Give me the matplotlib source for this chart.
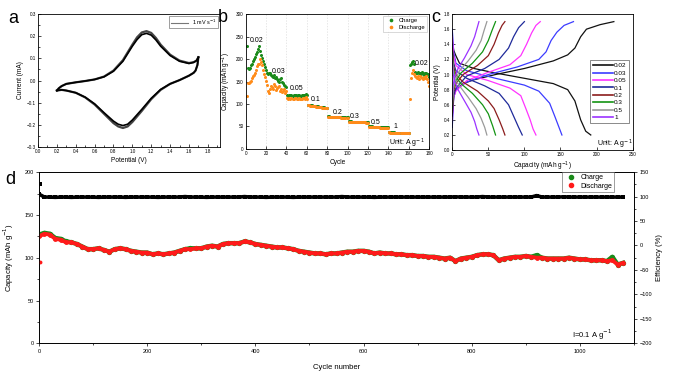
import numpy as np
import matplotlib.pyplot as plt
from matplotlib.ticker import MultipleLocator

plt.rcParams['font.family'] = ['Liberation Sans', 'DejaVu Sans']
plt.rcParams['axes.linewidth'] = 0.6

# ---- panel a: CV at 1 mV/s ----
cv_v_fwd = [0.2, 0.22, 0.25, 0.3, 0.4, 0.5, 0.6, 0.7, 0.8, 0.9, 1.0, 1.05, 1.1, 1.15,
            1.2, 1.25, 1.3, 1.4, 1.5, 1.6, 1.65, 1.68, 1.7]
cv_i_fwd = [-0.045, -0.035, -0.025, -0.015, -0.008, -0.002, 0.005, 0.017, 0.042, 0.087,
            0.155, 0.185, 0.207, 0.213, 0.205, 0.183, 0.155, 0.113, 0.087, 0.077, 0.082, 0.09, 0.105]
cv_i_fwd_2 = [-0.045, -0.035, -0.025, -0.015, -0.008, -0.002, 0.005, 0.018, 0.045, 0.092,
              0.162, 0.195, 0.217, 0.223, 0.215, 0.192, 0.162, 0.117, 0.09, 0.079, 0.083, 0.09, 0.105]
cv_v_rev = [1.7, 1.69, 1.67, 1.65, 1.6, 1.5, 1.4, 1.3, 1.2, 1.1, 1.0, 0.95, 0.9, 0.85,
            0.8, 0.7, 0.6, 0.5, 0.4, 0.3, 0.25, 0.2]
cv_i_rev = [0.105, 0.07, 0.045, 0.035, 0.022, 0.002, -0.015, -0.04, -0.08, -0.13, -0.178,
            -0.197, -0.203, -0.197, -0.183, -0.145, -0.105, -0.075, -0.055, -0.045, -0.042, -0.045]
cv_i_rev_2 = [0.105, 0.07, 0.045, 0.035, 0.022, 0.002, -0.015, -0.042, -0.084, -0.137, -0.187,
              -0.207, -0.214, -0.207, -0.192, -0.15, -0.108, -0.076, -0.055, -0.045, -0.042, -0.045]

# ---- panel b: rate capability ----
b_charge = [228, 180, 178, 181, 186, 190, 196, 200, 205, 212, 216, 222, 228, 218, 210, 202, 196, 188, 182, 175,
            168, 166, 170, 168, 165, 162, 160, 164, 157, 160, 155, 152, 150, 156, 158, 148, 146, 142, 140, 137,
            120, 118, 121, 119, 120, 118, 119, 121, 120, 118, 119, 120, 118, 117, 119, 120, 121, 118, 122, 119,
            98, 98, 97, 97, 97, 96, 96, 96, 95, 95, 95, 94, 94, 94, 93, 93, 93, 92, 92, 91,
            73, 73, 72, 72, 72, 72, 72, 71, 71, 71, 71, 71, 71, 70, 70, 70, 70, 70, 70, 70,
            62, 62, 62, 61, 61, 61, 61, 61, 61, 60, 60, 60, 60, 60, 60, 60, 60, 59, 59, 59,
            50, 50, 50, 50, 49, 49, 49, 49, 49, 49, 49, 48, 48, 48, 48, 48, 48, 48, 48, 48,
            38, 37, 37, 37, 37, 37, 36, 36, 36, 36, 36, 36, 36, 36, 36, 36, 36, 36, 36, 36,
            186, 190, 193, 196, 190, 172, 170, 168, 172, 170, 168, 166, 172, 169, 165, 168, 170, 165, 167, 160]
b_discharge = [118, 147, 146, 150, 152, 157, 162, 165, 170, 176, 184, 189, 190, 200, 194, 186, 176, 166, 160, 152,
               142, 130, 124, 134, 140, 137, 134, 144, 140, 131, 135, 138, 140, 130, 134, 127, 130, 134, 124, 128,
               113, 111, 114, 112, 113, 111, 112, 114, 113, 111, 112, 113, 111, 110, 112, 113, 114, 111, 115, 112,
               97, 97, 96, 96, 96, 95, 95, 95, 94, 94, 94, 93, 93, 93, 92, 92, 92, 91, 91, 90,
               72, 72, 71, 71, 71, 71, 71, 70, 70, 70, 70, 70, 70, 69, 69, 69, 69, 69, 69, 69,
               61, 61, 61, 60, 60, 60, 60, 60, 60, 59, 59, 59, 59, 59, 59, 59, 59, 58, 58, 58,
               49, 49, 49, 49, 48, 48, 48, 48, 48, 48, 48, 47, 47, 47, 47, 47, 47, 47, 47, 47,
               37, 36, 36, 36, 36, 36, 35, 35, 35, 35, 35, 35, 35, 35, 35, 35, 35, 35, 35, 35,
               110, 158, 170, 176, 166, 162, 160, 158, 163, 155, 162, 160, 158, 155, 160, 158, 162, 155, 150, 140]
b_cycles = np.arange(1, len(b_charge) + 1)
b_rate_labels = ['0.02', '0.03', '0.05', '0.1', '0.2', '0.3', '0.5', '1', '0.02']
b_label_x = [11, 32, 50, 69, 90, 107, 128, 147, 173]
b_label_y = [242, 172, 135, 110, 81, 72, 59, 50, 190]

# ---- panel c: charge/discharge profiles ----
c_rates = ['0.02', '0.03', '0.05', '0.1', '0.2', '0.3', '0.5', '1']
c_colors = ['#111111', '#3c3cff', '#ff33ff', '#1f2a9a', '#8b1c1c', '#139413', '#9a9a9a', '#9b33ff']
c_chg_cap = [[0, 2, 5, 15, 30, 60, 100, 140, 160, 170, 178, 186, 205, 224],
             [0, 2, 5, 20, 50, 90, 120, 130, 137, 145, 155, 168],
             [0, 2, 5, 20, 50, 80, 95, 103, 110, 116, 122],
             [0, 2, 5, 20, 45, 65, 78, 85, 92, 100],
             [0, 2, 5, 15, 35, 50, 58, 64, 69, 73],
             [0, 1.5, 4, 12, 28, 42, 50, 55, 60],
             [0, 1.5, 3, 10, 22, 33, 40, 44, 48],
             [0, 1, 3, 8, 17, 26, 31, 34, 37]]
c_chg_v = [[0.45, 0.7, 0.8, 0.88, 0.93, 1.0, 1.08, 1.18, 1.26, 1.35, 1.5, 1.6, 1.66, 1.7],
           [0.3, 0.7, 0.8, 0.9, 1.0, 1.1, 1.2, 1.3, 1.45, 1.56, 1.65, 1.7],
           [0.4, 0.7, 0.78, 0.92, 1.03, 1.13, 1.25, 1.4, 1.55, 1.65, 1.7],
           [0.45, 0.72, 0.82, 0.98, 1.08, 1.2, 1.35, 1.5, 1.62, 1.7],
           [0.5, 0.78, 0.88, 1.0, 1.12, 1.25, 1.4, 1.55, 1.65, 1.7],
           [0.55, 0.8, 0.9, 1.02, 1.15, 1.3, 1.45, 1.58, 1.7],
           [0.6, 0.8, 0.9, 1.05, 1.18, 1.32, 1.45, 1.58, 1.7],
           [0.65, 0.85, 0.95, 1.08, 1.22, 1.38, 1.5, 1.6, 1.7]]
c_dis_cap = [[0, 2, 5, 10, 30, 60, 100, 140, 160, 170, 178, 185, 192],
             [0, 2, 5, 20, 60, 100, 120, 135, 142, 148, 152],
             [0, 2, 5, 20, 50, 80, 95, 102, 108, 112, 116],
             [0, 2, 5, 20, 45, 65, 78, 85, 92, 97],
             [0, 2, 5, 15, 35, 50, 58, 65, 70, 73],
             [0, 1.5, 4, 12, 28, 42, 50, 56, 60],
             [0, 1.5, 3, 10, 22, 33, 40, 45, 48],
             [0, 1, 3, 8, 17, 26, 31, 34, 37]]
c_dis_v = [[1.45, 1.32, 1.25, 1.15, 1.08, 1.02, 0.95, 0.88, 0.8, 0.65, 0.4, 0.25, 0.2],
           [1.6, 1.3, 1.15, 1.05, 0.95, 0.86, 0.78, 0.62, 0.45, 0.3, 0.2],
           [1.5, 1.25, 1.12, 1.0, 0.92, 0.82, 0.72, 0.55, 0.4, 0.28, 0.2],
           [1.4, 1.15, 1.05, 0.95, 0.85, 0.75, 0.6, 0.45, 0.3, 0.2],
           [1.35, 1.1, 1.0, 0.9, 0.78, 0.65, 0.55, 0.4, 0.28, 0.2],
           [1.3, 1.08, 0.98, 0.88, 0.75, 0.6, 0.48, 0.32, 0.2],
           [1.25, 1.05, 0.95, 0.85, 0.7, 0.55, 0.42, 0.3, 0.2],
           [1.2, 1.02, 0.92, 0.8, 0.65, 0.5, 0.38, 0.28, 0.2]]

# ---- panel d: long cycling at 0.1 A/g (every 10th cycle) ----
d_discharge = [125, 128, 127, 122, 121, 118, 118, 116, 113, 110,
               110, 111, 109, 107, 110, 111, 110, 108, 107, 106,
               106, 104, 105, 104, 105, 106, 108, 110, 110, 111,
               111, 113, 114, 113, 116, 117, 117, 117, 119, 118,
               116, 115, 114, 113, 112, 112, 111, 110, 108, 107,
               106, 105, 105, 104, 105, 105, 106, 107, 107, 108,
               108, 107, 105, 106, 105, 105, 104, 104, 103, 103,
               102, 102, 101, 101, 100, 99, 100, 96, 99, 100,
               101, 103, 104, 104, 103, 97, 99, 100, 101, 101,
               102, 101, 100, 100, 99, 99, 99, 99, 100, 99,
               98, 98, 97, 97, 97, 96, 97, 92, 94]
d_charge = [127, 129, 128, 123, 122, 119, 118, 116, 113, 110,
            110, 111, 109, 107, 110, 111, 110, 108, 107, 106,
            106, 104, 105, 104, 105, 106, 108, 110, 111, 111,
            111, 113, 114, 113, 116, 117, 117, 117, 119, 118,
            116, 115, 114, 113, 112, 112, 111, 110, 108, 107,
            106, 105, 105, 104, 105, 105, 106, 107, 107, 108,
            108, 107, 105, 106, 105, 105, 104, 104, 103, 103,
            102, 102, 101, 101, 100, 99, 100, 96, 99, 100,
            101, 103, 104, 104, 103, 97, 99, 100, 101, 101,
            102, 101, 103, 100, 99, 99, 99, 99, 100, 99,
            98, 98, 97, 97, 97, 96, 101, 92, 94]
d_efficiency = [105, 99, 99, 98.5, 99, 99, 98.5, 99, 99, 99,
                99, 98.5, 99, 99, 99, 99, 98.5, 99, 99, 99,
                99, 99, 98.5, 99, 99, 99, 99, 100, 99, 99,
                99, 98.5, 99, 99, 99, 99, 99, 99, 100, 99,
                99, 99, 98.5, 99, 99, 99, 99, 98.5, 99, 99,
                99, 99, 99, 99, 99, 99, 100, 99, 99, 99,
                99, 99, 98.5, 99, 99, 99, 99, 99, 99, 99,
                99, 99, 99, 99, 99, 99, 99, 99.5, 99, 99,
                99, 99, 100, 99, 99, 99, 99, 99, 99, 99,
                99, 99, 102, 99, 99, 99, 99, 99.5, 99, 99,
                99, 99, 99, 99, 99, 99, 99, 99, 99]
d_cycles = np.arange(0, 10 * len(d_discharge), 10)
d_first_discharge = 95
d_first_efficiency = 126

fig = plt.figure(figsize=(6.73, 3.8), dpi=100)

def style(ax, fs=3.3, direction='in'):
    ax.tick_params(which='both', direction=direction, labelsize=fs, width=0.5, pad=1.5)
    ax.tick_params(which='major', length=2.5)
    ax.tick_params(which='minor', length=1.3)

# a
ax_a = fig.add_axes([0.0565, 0.613, 0.2705, 0.35])
ax_a.plot(cv_v_fwd, cv_i_fwd_2, color='#444444', lw=1.6)
ax_a.plot(cv_v_rev, cv_i_rev_2, color='#444444', lw=1.6)
ax_a.plot(cv_v_fwd, cv_i_fwd, color='black', lw=1.2, label='1 mV s$^{-1}$')
ax_a.plot(cv_v_rev, cv_i_rev, color='black', lw=1.2)
ax_a.set_xlim(0, 1.93)
ax_a.set_ylim(-0.3, 0.3)
ax_a.xaxis.set_major_locator(MultipleLocator(0.2))
ax_a.xaxis.set_minor_locator(MultipleLocator(0.1))
ax_a.yaxis.set_major_locator(MultipleLocator(0.1))
ax_a.yaxis.set_minor_locator(MultipleLocator(0.05))
ax_a.xaxis.set_major_formatter('{x:.1f}')
ax_a.yaxis.set_major_formatter('{x:.1f}')
style(ax_a)
ax_a.set_xlabel('Potential (V)', fontsize=4.7, labelpad=2)
ax_a.set_ylabel('Current (mA)', fontsize=4.7, labelpad=2)
leg = ax_a.legend(loc='upper right', fontsize=4, frameon=True, fancybox=False, handlelength=3,
                  borderpad=0.3, borderaxespad=0.3)
leg.get_lines()[0].set_color('#777777')
leg.get_lines()[0].set_linewidth(0.8)
leg.get_frame().set_edgecolor('#555555')
leg.get_frame().set_linewidth(0.5)
fig.text(0.013, 0.94, 'a', fontsize=13)

# b
ax_b = fig.add_axes([0.365, 0.608, 0.2725, 0.355])
for c in range(20, 180, 20):
    ax_b.axvline(c, color='#dddddd', lw=0.5, ls=(0, (2, 2)), zorder=0)
ax_b.plot(b_cycles, b_charge, 'o', color='#1a8a1a', ms=2.2, mew=0, label='Charge')
ax_b.plot(b_cycles, b_discharge, 'o', color='#ff8c1a', ms=2.2, mew=0, label='Discharge')
ax_b.set_xlim(0, 180)
ax_b.set_ylim(0, 300)
ax_b.xaxis.set_major_locator(MultipleLocator(20))
ax_b.yaxis.set_major_locator(MultipleLocator(50))
style(ax_b)
ax_b.set_xlabel('Cycle', fontsize=4.7, labelpad=2)
ax_b.set_ylabel('Capacity (mAh g$^{-1}$)', fontsize=4.7, labelpad=2)
for lab, lx, ly in zip(b_rate_labels, b_label_x, b_label_y):
    ax_b.text(lx, ly, lab, fontsize=5, ha='center', va='center')
ax_b.text(176, 13, 'Unit: A g$^{-1}$', fontsize=5, ha='right', va='center')
leg = ax_b.legend(loc='upper right', fontsize=4.2, frameon=True, fancybox=False, handletextpad=0.3,
                  borderpad=0.4, labelspacing=0.3, borderaxespad=0.3, markerscale=1.2)
leg.get_frame().set_edgecolor('#aaaaaa')
leg.get_frame().set_linewidth(0.4)
fig.text(0.324, 0.942, 'b', fontsize=13)

# c
ax_c = fig.add_axes([0.672, 0.605, 0.268, 0.358])
for i in range(len(c_rates)):
    ax_c.plot(c_chg_cap[i], c_chg_v[i], color=c_colors[i], lw=0.9, label=c_rates[i])
    ax_c.plot(c_dis_cap[i], c_dis_v[i], color=c_colors[i], lw=0.9)
ax_c.set_xlim(0, 250)
ax_c.set_ylim(0, 1.8)
ax_c.xaxis.set_major_locator(MultipleLocator(50))
ax_c.yaxis.set_major_locator(MultipleLocator(0.2))
ax_c.yaxis.set_major_formatter('{x:.1f}')
style(ax_c)
ax_c.set_xlabel('Capacity (mAh g$^{-1}$)', fontsize=4.7, labelpad=2)
ax_c.set_ylabel('Potential (V)', fontsize=4.7, labelpad=2)
leg = ax_c.legend(loc='center right', bbox_to_anchor=(1.0, 0.43), fontsize=4.6, frameon=True,
                  fancybox=False, handlelength=3.2, handletextpad=0.2, labelspacing=0.3, borderpad=0.4)
for ln in leg.get_lines():
    ln.set_linewidth(1.2)
leg.get_frame().set_edgecolor('#333333')
leg.get_frame().set_linewidth(0.5)
ax_c.text(225, 0.08, 'Unit: A g$^{-1}$', fontsize=5, ha='center', va='center')
fig.text(0.641, 0.942, 'c', fontsize=13)

# d
ax_d = fig.add_axes([0.058, 0.0966, 0.884, 0.4504])
ax_e = ax_d.twinx()
ax_e.plot(d_cycles, d_efficiency, color='black', lw=2.6, marker='s', ms=3.0, mew=0)
ax_e.plot([1], [d_first_efficiency], 's', color='black', ms=2.8, mew=0)
ax_e.set_ylim(-200, 150)
ax_e.yaxis.set_major_locator(MultipleLocator(50))
ax_e.yaxis.set_minor_locator(MultipleLocator(25))
style(ax_e, fs=4, direction='out')
ax_e.set_ylabel('Efficiency (%)', fontsize=5.5, labelpad=3)
ax_d.set_zorder(ax_e.get_zorder() + 1)
ax_d.patch.set_visible(False)
ax_d.plot(d_cycles, d_charge, color='#1a8a1a', lw=3.2, marker='o', ms=3.8, mew=0, label='Charge')
ax_d.plot(d_cycles, d_discharge, color='#ff1a1a', lw=2.8, marker='o', ms=3.5, mew=0, label='Discharge')
ax_d.plot([1], [d_first_discharge], 'o', color='#ff1a1a', ms=2.8, mew=0)
ax_d.set_xlim(0, 1100)
ax_d.set_ylim(0, 200)
ax_d.xaxis.set_major_locator(MultipleLocator(200))
ax_d.xaxis.set_minor_locator(MultipleLocator(100))
ax_d.yaxis.set_major_locator(MultipleLocator(50))
ax_d.yaxis.set_minor_locator(MultipleLocator(25))
style(ax_d, fs=4, direction='out')
ax_d.set_xlabel('Cycle number', fontsize=5.5, labelpad=7)
ax_d.set_ylabel('Capacity (mAh g$^{-1}$)', fontsize=5.5, labelpad=6)
handles = [plt.Line2D([], [], ls='', marker='o', color='#1a8a1a', ms=3),
           plt.Line2D([], [], ls='', marker='o', color='#ff1a1a', ms=3)]
leg = ax_d.legend(handles, ['Charge', 'Discharge'], loc='upper right', bbox_to_anchor=(0.967, 1.0),
                  fontsize=5, frameon=True, fancybox=False, handletextpad=0.3, borderpad=0.3,
                  labelspacing=0.2, borderaxespad=0)
leg.get_frame().set_edgecolor('#555555')
leg.get_frame().set_linewidth(0.5)
ax_d.text(1060, 10, 'I=0.1 A g$^{-1}$', fontsize=5.5, ha='right', va='center')
fig.text(0.008, 0.515, 'd', fontsize=13)

fig.savefig('out.png', dpi=100)
